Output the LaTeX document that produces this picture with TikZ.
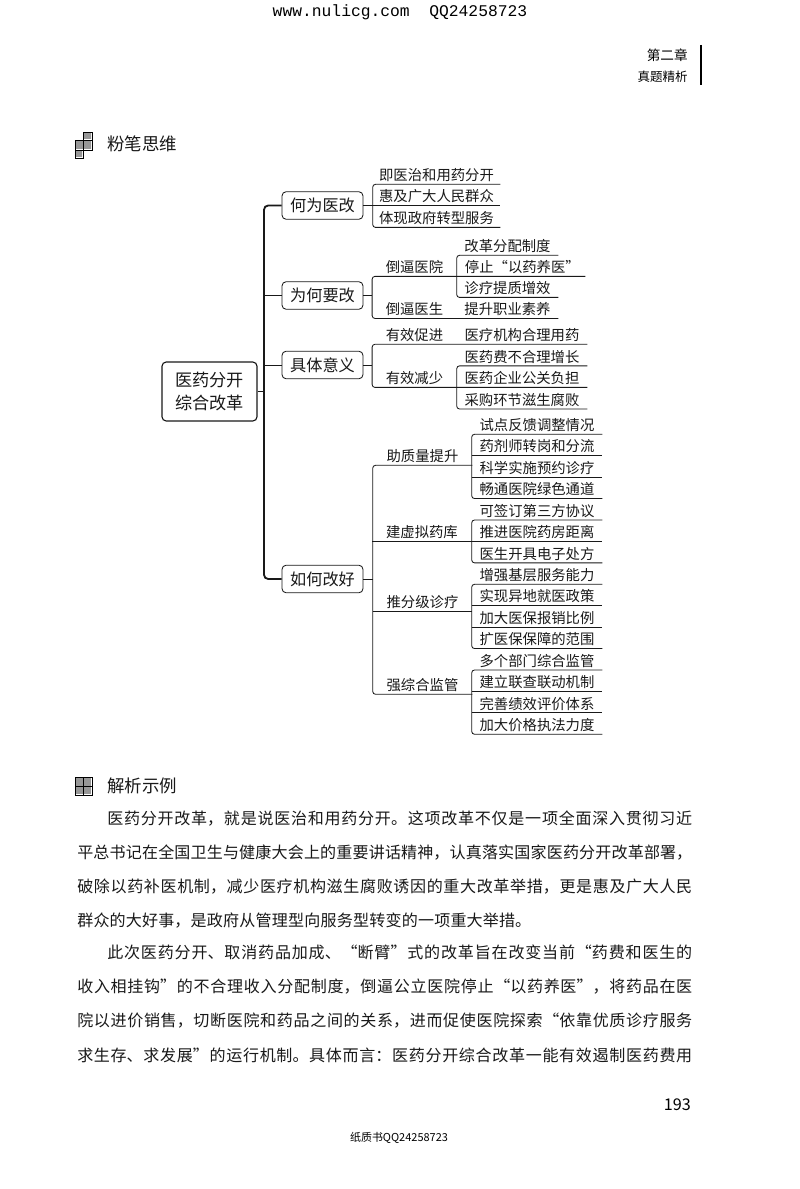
\documentclass[tikz,border=0pt]{standalone}
\usepackage{fontspec}
\setmainfont{Noto Sans CJK SC}
\newfontfamily\monoface{Liberation Mono}
\XeTeXlinebreaklocale "zh"
\XeTeXlinebreakskip=0pt plus 4pt
\usetikzlibrary{positioning,chains}
\definecolor{myink}{RGB}{25,25,25}

\begin{document}
\begin{tikzpicture}[x=0.025cm,y=-0.025cm,font=\color{myink},
    rootbox/.style={draw=myink,thick,rounded corners=3pt,minimum width=2.375cm,minimum height=1.475cm,
      inner sep=0pt,align=center,font=\fontsize{12.2pt}{16.4pt}\selectfont\color{myink}},
    topicbox/.style={draw=myink,semithick,rounded corners=3pt,minimum width=2.025cm,minimum height=0.69cm,
      inner sep=0pt,font=\fontsize{11.5pt}{13pt}\selectfont\color{myink}},
    leaf/.style={inner sep=0pt,minimum height=0.45cm,minimum width={#1*0.025cm},
      font=\fontsize{10.2pt}{12pt}\selectfont\color{myink}},
    bodyline/.style={anchor=west,inner sep=0pt,font=\fontsize{11.4pt}{13pt}\selectfont\color{myink}},
    headline/.style={anchor=west,inner sep=0pt,font=\fontsize{12.4pt}{14pt}\selectfont\color{myink}},
    link/.style={draw=myink,semithick,rounded corners=2pt},
    trunk/.style={draw=myink,line width=1.3pt,rounded corners=3pt}
  ]
  \useasboundingbox[fill=white] (0,0) rectangle (800,1189);

  % the page furniture
  \node[inner sep=0pt,font=\monoface\fontsize{11.6pt}{14pt}\selectfont] (site) at (400,12) {www.nulicg.com\ \ QQ24258723};
  \node[anchor=east,inner sep=0pt,font=\fontsize{9.7pt}{11pt}\selectfont] (chap) at (688,55) {第二章};
  \node[anchor=east,inner sep=0pt,font=\fontsize{8.9pt}{10pt}\selectfont] (sect) at (688,77) {真题精析};
  \draw[line width=1pt] (701,45) -- (701,85);
  \node[anchor=east,inner sep=0pt,font=\fontsize{11.5pt}{13pt}\selectfont] (folio) at (691,1105) {193};
  \node[inner sep=0pt,font=\fontsize{7.8pt}{9pt}\selectfont] (paper) at (399,1138) {纸质书QQ24258723};

  % the two heading marks
  \fill[myink!45] (84,133) rectangle (91,139) (75,141) rectangle (91,149) (75,151) rectangle (82,157);
  \draw[semithick] (83,132) rectangle (92,140) (75,140) rectangle (92,150) (75,150) rectangle (83,158) (83,140) -- (83,150);
  \fill[myink!45] (75,778) rectangle (91,794);
  \draw[semithick] (75,777) rectangle (92,795) (83.5,777) -- (83.5,795) (75,786) -- (92,786);
  \node[headline] (chalk) at (107,144) {粉笔思维};
  \node[headline] (notes) at (107,786) {解析示例};

  % the root and the topics
  \node[rootbox] (root) at (209.5,391.5) {医药分开\\综合改革};
  \foreach \i/\ycoord/\txt in {1/205.5/何为医改,2/295.5/为何要改,3/365/具体意义,4/579/如何改好}
    \node[topicbox] (t\i) at (322.5,\ycoord) {\txt};

  % the leaves of topic 1
  \begin{scope}[shift={(436.5,175)},start chain=going below,node distance=0.075cm]
  \foreach \i/\txt in {1/即医治和用药分开,2/惠及广大人民群众,3/体现政府转型服务}
    \node[leaf=127,on chain] (a\i) {\txt};
  \end{scope}

  % the leaves of topic 2
  \begin{scope}[shift={(507.5,246)},start chain=going below,node distance=0.0625cm]
  \foreach \i/\txt in {1/改革分配制度,2/\makebox[2.125cm][l]{停止“以药养医”},3/诊疗提质增效,4/提升职业素养}
    \node[leaf=101,on chain] (b\i) {\txt};
  \end{scope}
  \coordinate (bend) at ([xshift=0.675cm]b2.south east);
  \node[leaf=84,left=0pt of b2] (m1) {倒逼医院};
  \node[leaf=84,left=0pt of b4] (m2) {倒逼医生};

  % the leaves of topic 3
  \begin{scope}[shift={(522,335)},start chain=going below,node distance=0.075cm]
  \foreach \i/\txt in {1/医疗机构合理用药,2/医药费不合理增长,3/医药企业公关负担,4/采购环节滋生腐败}
    \node[leaf=130,on chain] (c\i) {\txt};
  \end{scope}
  \node[leaf=84,left=0pt of c1] (m3) {有效促进};
  \node[leaf=84,left=0pt of c3] (m4) {有效减少};

  % the leaves of topic 4
  \begin{scope}[shift={(537,425)},start chain=going below,node distance=0.0715cm]
  \foreach \i/\txt in {1/试点反馈调整情况,2/药剂师转岗和分流,3/科学实施预约诊疗,4/畅通医院绿色通道,
      5/可签订第三方协议,6/推进医院药房距离,7/医生开具电子处方,
      8/增强基层服务能力,9/实现异地就医政策,10/加大医保报销比例,11/扩医保保障的范围,
      12/多个部门综合监管,13/建立联查联动机制,14/完善绩效评价体系,15/加大价格执法力度}
    \node[leaf=130,on chain] (d\i) {\txt};
  \end{scope}
  \foreach \i/\ycoord/\txt in {5/456/助质量提升,7/602/推分级诊疗,8/685/强综合监管}
    \node[leaf=99] (m\i) at (422.5,\ycoord) {\txt};
  \node[leaf=99,left=0pt of d6] (m6) {建虚拟药库};

  % the trunk
  \coordinate (fork) at (264,391.5);
  \draw[trunk] (t1.west) -| (fork) |- (t4.west);
  \draw[trunk] (root.east) -- (fork);
  \draw[link] (fork |- t2.west) -- (t2.west);
  \draw[link] (fork |- t3.west) -- (t3.west);

  % the edges from the topics
  \draw[link] (t1.east) -- (t1.east -| a1.south west);
  \draw[link] (t2.east) -- (t2.east -| m1.south west);
  \draw[link] (t3.east) -- (t3.east -| m3.south west);
  \draw[link] (t4.east) -- (t4.east -| m5.south west);

  % the brackets
  \draw[link] (a1.south east) -- (a1.south west) -- (a3.south west) -- (a3.south east);
  \draw[link] (a2.south west) -- (a2.south east);
  \draw[link] (bend) -- (m1.south west) -- (m2.south west) -- (b4.south east);
  \draw[link] (b1.south east) -- (b1.south west) -- (b3.south west) -- (b3.south east);
  \draw[link] (c1.south east) -- (m3.south west) -- (m4.south west) -- (c3.south east);
  \draw[link] (c2.south east) -- (c2.south west) -- (c4.south west) -- (c4.south east);
  \draw[link] (m5.south east) -- (m5.south west) -- (m8.south west) -- (m8.south east);
  \draw[link] (m6.south west) -- (d6.south east);
  \draw[link] (m7.south west) -- (m7.south east);
  \foreach \a/\b in {d1/d4,d5/d7,d8/d11,d12/d15}
    \draw[link] (\a.south east) -- (\a.south west) -- (\b.south west) -- (\b.south east);
  \foreach \i in {2,3,9,10,13,14}
    \draw[link] (d\i.south west) -- (d\i.south east);

  % the running text
  \foreach \i/\xcoord/\rcoord/\ycoord/\txt in {
      1/107/692/819/医药分开改革，就是说医治和用药分开。这项改革不仅是一项全面深入贯彻习近,
      2/77/692/853/平总书记在全国卫生与健康大会上的重要讲话精神，认真落实国家医药分开改革部署，,
      3/77/692/887/破除以药补医机制，减少医疗机构滋生腐败诱因的重大改革举措，更是惠及广大人民,
      4/77/531/921/群众的大好事，是政府从管理型向服务型转变的一项重大举措。,
      5/107/692/952/此次医药分开、取消药品加成、“断臂”式的改革旨在改变当前“药费和医生的,
      6/77/692/987/收入相挂钩”的不合理收入分配制度，倒逼公立医院停止“以药养医”，将药品在医,
      7/77/692/1021/院以进价销售，切断医院和药品之间的关系，进而促使医院探索“依靠优质诊疗服务,
      8/77/692/1055/求生存、求发展”的运行机制。具体而言：医药分开综合改革一能有效遏制医药费用}{
    \pgfmathsetlengthmacro\linew{(\rcoord-\xcoord)*0.025cm}
    \node[bodyline] (line\i) at (\xcoord,\ycoord) {\parbox{\linew}{\parfillskip=0pt\relax\txt}};
  }
\end{tikzpicture}
\end{document}
